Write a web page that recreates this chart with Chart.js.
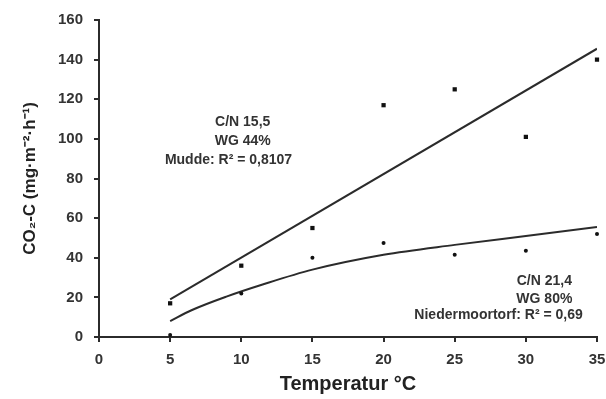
<!DOCTYPE html>
<html>
<head>
<meta charset="utf-8">
<script src="https://cdn.jsdelivr.net/npm/chart.js@4"></script>
<style>
    html, body { margin: 0; padding: 0; background: #ffffff; }
    #wrap { width: 606px; height: 399px; }
</style>
</head>
<body>
<div id="wrap"><canvas id="chart" width="606" height="399"></canvas></div>
<script>
// measured points, temperature in °C
const temps = [5, 10, 15, 20, 25, 30, 35];
const muddeCO2 = [17, 36, 55, 117, 125, 101, 140];
const niederCO2 = [1, 22, 40, 47.5, 41.5, 43.5, 52];

// fitted curves
const muddeFitX = [5, 35];
const muddeFitY = [19, 145.5];
const niederFitX = [5, 6.5, 9, 11.5, 15, 20, 25, 30, 35];
const niederFitY = [8, 13.5, 20.5, 26.5, 34, 41.5, 46.5, 51, 55.5];

// axis ticks
const xTicks = [0, 5, 10, 15, 20, 25, 30, 35];
const yTicks = [0, 20, 40, 60, 80, 100, 120, 140, 160];

const ink = "#2b2b2b";
const fontFamily = "'Liberation Sans', Arial, sans-serif";

const toXY = (xs, ys) => xs.map((x, i) => ({ x: x, y: ys[i] }));

// text lines beside the curves, anchored in data units
const notes = {
    id: "notes",
    afterDatasetsDraw(chart) {
        const { ctx, scales } = chart;
        const lines = [
            { x: 10.1, y: 108.5, align: "center", text: "C/N 15,5" },
            { x: 10.1, y: 98.8, align: "center", text: "WG 44%" },
            { x: 9.1, y: 89.2, align: "center", text: "Mudde: R² = 0,8107" },
            { x: 31.3, y: 28.2, align: "center", text: "C/N 21,4" },
            { x: 31.3, y: 19.3, align: "center", text: "WG 80%" },
            { x: 34.0, y: 11, align: "right", text: "Niedermoortorf: R² = 0,69" },
        ];
        ctx.save();
        ctx.fillStyle = "#333";
        ctx.font = "bold 14px " + fontFamily;
        ctx.textBaseline = "middle";
        lines.forEach((l) => {
            ctx.textAlign = l.align;
            ctx.fillText(l.text, scales.x.getPixelForValue(l.x), scales.y.getPixelForValue(l.y));
        });
        ctx.restore();
    },
};

new Chart(document.getElementById("chart").getContext("2d"), {
    type: "scatter",
    data: {
        datasets: [
            {
                label: "Mudde",
                data: toXY(temps, muddeCO2),
                pointStyle: "rect",
                pointRadius: 3,
                backgroundColor: "#111",
                borderColor: "#111",
                borderWidth: 0,
                clip: false,
            },
            {
                label: "Niedermoortorf",
                data: toXY(temps, niederCO2),
                pointStyle: "circle",
                pointRadius: 2,
                backgroundColor: "#111",
                borderColor: "#111",
                borderWidth: 0,
                clip: false,
            },
            {
                type: "line",
                label: "Mudde fit",
                data: toXY(muddeFitX, muddeFitY),
                borderColor: ink,
                borderWidth: 2,
                pointRadius: 0,
                fill: false,
            },
            {
                type: "line",
                label: "Niedermoortorf fit",
                data: toXY(niederFitX, niederFitY),
                borderColor: ink,
                borderWidth: 2,
                pointRadius: 0,
                cubicInterpolationMode: "monotone",
                fill: false,
            },
        ],
    },
    options: {
        responsive: false,
        animation: false,
        layout: { padding: { left: 20, right: 9, top: 16, bottom: 0 } },
        plugins: {
            legend: { display: false },
            tooltip: { enabled: false },
        },
        scales: {
            x: {
                type: "linear",
                min: 0,
                max: 35,
                afterBuildTicks: (s) => { s.ticks = xTicks.map((v) => ({ value: v })); },
                afterFit: (s) => {
                    s.height = 62;
                    s.paddingRight = 0;
                    s.paddingLeft = 0;
                },
                grid: { drawOnChartArea: false, drawTicks: true, tickLength: 5, color: ink, lineWidth: 2 },
                border: { display: true, color: ink, width: 2 },
                ticks: { color: "#333", padding: 9, font: { family: fontFamily, size: 15, weight: "bold" } },
                title: {
                    display: true,
                    text: "Temperatur °C",
                    color: "#222",
                    padding: { top: 0, bottom: 3 },
                    font: { family: fontFamily, size: 20, weight: "bold" },
                },
            },
            y: {
                min: 0,
                max: 160,
                afterBuildTicks: (s) => { s.ticks = yTicks.map((v) => ({ value: v })); },
                afterFit: (s) => { s.width = 79; },
                grid: { drawOnChartArea: false, drawTicks: true, tickLength: 5, color: ink, lineWidth: 2 },
                border: { display: true, color: ink, width: 2 },
                ticks: { color: "#333", padding: 11, font: { family: fontFamily, size: 15, weight: "bold" } },
                title: {
                    display: true,
                    text: "CO₂-C (mg·m⁻²·h⁻¹)",
                    color: "#222",
                    padding: { top: 0, bottom: 0 },
                    font: { family: fontFamily, size: 17, weight: "bold" },
                },
            },
        },
    },
    plugins: [notes],
});
</script>
</body>
</html>
